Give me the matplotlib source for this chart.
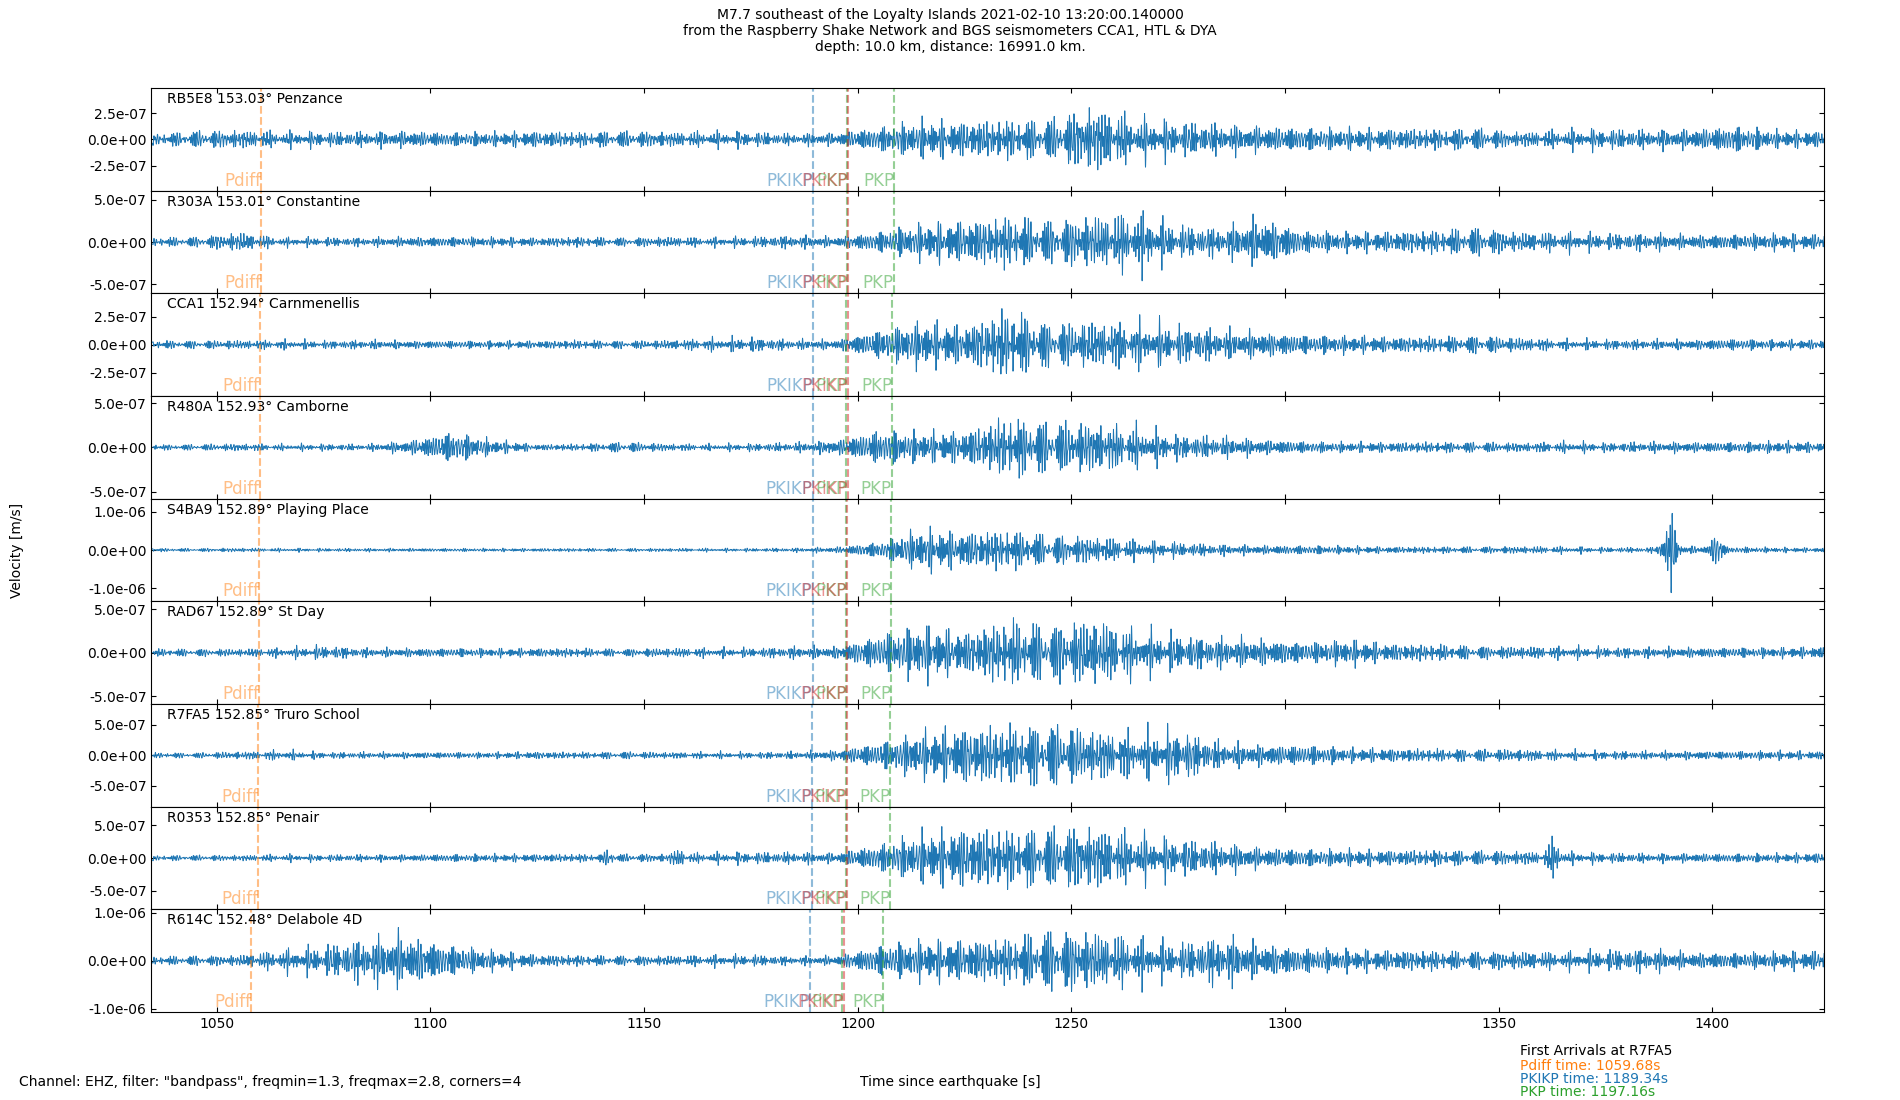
import numpy as np
import matplotlib
matplotlib.use("Agg")
import matplotlib.pyplot as plt

# station info
codes = ["RB5E8", "R303A", "CCA1", "R480A", "S4BA9", "RAD67", "R7FA5", "R0353", "R614C"]
dists = [153.03, 153.01, 152.94, 152.93, 152.89, 152.89, 152.85, 152.85, 152.48]
names = ["Penzance", "Constantine", "Carnmenellis", "Camborne", "Playing Place",
         "St Day", "Truro School", "Penair", "Delabole 4D"]

# arrival times per station [s]
t_pdiff = [1060.45, 1060.35, 1060.05, 1060.0, 1059.85, 1059.85, 1059.68, 1059.68, 1058.1]
t_pkikp = [1189.6, 1189.55, 1189.5, 1189.45, 1189.4, 1189.4, 1189.34, 1189.34, 1188.8]
t_pkp = [1197.5, 1197.45, 1197.35, 1197.3, 1197.25, 1197.25, 1197.16, 1197.16, 1196.4]
t_pkikp2 = [1197.8, 1197.75, 1197.65, 1197.6, 1197.55, 1197.55, 1197.45, 1197.45, 1196.7]
t_pkp2 = [1208.5, 1208.4, 1208.1, 1208.0, 1207.8, 1207.8, 1207.6, 1207.6, 1205.9]

# y limits and ticks per panel [m/s]
ylims = [4.9e-7, 6.1e-7, 4.6e-7, 5.8e-7, 1.35e-6, 5.9e-7, 8.4e-7, 7.8e-7, 1.07e-6]
ytick_step = [2.5e-7, 5e-7, 2.5e-7, 5e-7, 1e-6, 5e-7, 5e-7, 5e-7, 1e-6]

# amplitude envelopes (x1e-7 m/s), knots every 10 s from 1035 s
env_knots = np.arange(1035, 1426, 10)
env_RB5E8 = [0.6, 0.9, 1.0, 0.8, 0.8, 0.8, 0.9, 0.8, 0.8, 0.9, 0.8, 0.9, 0.8, 0.8, 0.8, 0.6, 0.7,
             1.4, 2.1, 2.0, 2.1, 2.2, 3.6, 2.2, 1.9, 1.6, 1.4, 1.3, 1.2, 1.2, 1.1, 1.2, 0.8, 1.0,
             1.1, 1.0, 1.1, 1.5, 1.0, 0.9]
env_R303A = [0.6, 0.7, 1.3, 0.6, 0.6, 0.6, 0.7, 0.7, 0.7, 0.6, 0.7, 0.6, 0.7, 0.6, 0.7, 0.9, 0.7,
             1.5, 2.6, 3.0, 3.6, 3.0, 3.6, 4.0, 2.2, 2.0, 3.2, 1.6, 1.4, 1.5, 1.6, 2.0, 1.3, 1.3,
             1.1, 1.2, 1.0, 1.1, 1.2, 1.1]
env_CCA1 = [0.4, 0.4, 0.45, 0.45, 0.4, 0.45, 0.4, 0.4, 0.4, 0.4, 0.45, 0.4, 0.45, 0.6, 0.7, 0.5,
            0.5, 1.5, 2.4, 2.0, 3.5, 2.2, 2.3, 2.2, 1.9, 1.5, 1.3, 1.0, 0.9, 0.8, 0.8, 0.9, 0.7,
            0.5, 0.5, 0.5, 0.5, 0.6, 0.5, 0.5]
env_R480A = [0.35, 0.4, 0.5, 0.4, 0.45, 0.4, 0.9, 2.1, 1.0, 0.4, 0.45, 0.7, 0.5, 0.4, 0.5, 0.6,
             0.9, 2.4, 2.0, 2.2, 4.0, 3.4, 3.3, 2.6, 1.6, 1.4, 1.0, 0.8, 0.7, 0.7, 0.7, 0.7, 0.6,
             0.7, 0.6, 0.7, 0.7, 0.7, 0.8, 0.7]
env_S4BA9 = [0.5, 0.5, 0.6, 0.5, 0.5, 0.5, 0.5, 0.5, 0.5, 0.5, 0.5, 0.5, 0.5, 0.5, 0.5, 0.6, 0.9,
             2.5, 6.5, 5.5, 6.0, 4.5, 4.0, 2.8, 2.2, 1.6, 1.4, 1.4, 1.2, 1.0, 1.0, 1.0, 1.1, 1.0,
             0.8, 0.8, 1.2, 1.0, 0.8, 0.7]
env_RAD67 = [0.5, 0.5, 0.5, 0.6, 0.9, 0.6, 0.6, 0.6, 0.6, 0.6, 0.6, 0.5, 0.6, 0.6, 0.6, 0.8, 0.8,
             2.5, 3.8, 2.8, 4.4, 3.8, 4.4, 3.0, 2.3, 2.0, 1.8, 1.4, 1.8, 1.2, 1.1, 0.9, 0.8, 0.8,
             0.7, 0.7, 0.7, 0.7, 0.7, 0.8]
env_R7FA5 = [0.5, 0.5, 0.7, 0.9, 0.6, 0.6, 0.6, 0.6, 0.6, 0.7, 0.6, 0.7, 0.6, 0.6, 0.6, 0.7, 1.0,
             2.5, 4.5, 5.5, 5.5, 6.0, 4.8, 4.0, 4.8, 2.4, 2.0, 2.0, 1.4, 1.3, 1.2, 1.2, 1.1, 0.9,
             0.8, 0.8, 0.8, 0.8, 0.9, 0.8]
env_R0353 = [0.45, 0.5, 0.5, 0.6, 0.6, 0.6, 0.6, 0.7, 0.7, 0.7, 0.7, 0.7, 0.7, 0.9, 1.0, 1.0, 0.9,
             2.5, 4.5, 5.5, 5.0, 5.3, 5.5, 4.0, 3.2, 2.6, 1.8, 1.6, 1.5, 1.4, 1.4, 1.3, 1.2, 1.0,
             0.9, 0.8, 0.8, 0.8, 0.8, 0.9]
env_R614C = [1.0, 1.2, 1.3, 2.5, 3.5, 5.5, 6.0, 3.8, 2.5, 1.5, 1.3, 1.2, 1.2, 1.3, 1.4, 1.0, 1.2,
             3.8, 5.0, 5.2, 5.5, 7.5, 7.0, 5.5, 4.0, 6.0, 4.0, 3.2, 2.8, 2.6, 2.4, 2.2, 2.2, 2.0,
             2.5, 2.8, 2.0, 2.0, 2.2, 2.5]
envelopes = [env_RB5E8, env_R303A, env_CCA1, env_R480A, env_S4BA9,
             env_RAD67, env_R7FA5, env_R0353, env_R614C]

# short local bursts: (time s, amplitude x1e-7, half width s)
burst_list = {
    "R303A": [(1056, 1.4, 1.0), (1268, 4.8, 1.0), (1292, 3.4, 1.5)],
    "R480A": [(1193, 1.4, 0.8)],
    "S4BA9": [(1390, 10.5, 1.5), (1401, 6.0, 1.2)],
    "R0353": [(1142, 2.0, 1.2), (1158, 1.6, 2.0), (1363, 3.3, 1.8)],
    "R614C": [(1092, 7.0, 1.5)],
}

fs = 50.0
t = np.arange(1035.0, 1426.5, 1 / fs)
freqs = [1.33, 1.52, 1.71, 1.94, 2.17, 2.38, 2.61, 2.79]

fig, axes = plt.subplots(9, 1, figsize=(19, 11), dpi=100, sharex=True)
fig.subplots_adjust(left=0.0797, right=0.96, top=0.92, bottom=0.08, hspace=0)

for i, ax in enumerate(axes):
    env = np.interp(t, env_knots, envelopes[i])
    for tb, ab, wb in burst_list.get(codes[i], []):
        env = np.maximum(env, ab * np.exp(-0.5 * ((t - tb) / wb) ** 2))
    carrier = sum(np.sin(2 * np.pi * f * t + (i + 1) * (j + 1) * 0.9 + 0.37 * j * j)
                  for j, f in enumerate(freqs))
    carrier = carrier / np.percentile(np.abs(carrier), 99.5)
    ax.plot(t, env * 1e-7 * carrier, color="C0", lw=0.7)

    lines = [(t_pdiff[i], "C1", "Pdiff"), (t_pkikp[i], "C0", "PKIKP"),
             (t_pkp[i], "C2", "PKP"), (t_pkikp2[i], "C3", "PKiKP"),
             (t_pkp2[i], "C2", "PKP")]
    for x, c, lab in lines:
        ax.axvline(x, color=c, ls="--", lw=1.5, alpha=0.5)
        ax.text(x, 0.01, lab, color=c, alpha=0.5, fontsize=12, ha="right", va="bottom",
                transform=ax.get_xaxis_transform())

    ax.text(0.0095, 0.96, f"{codes[i]} {dists[i]:.2f}° {names[i]}", transform=ax.transAxes,
            fontsize=10, va="top", ha="left")
    ax.set_ylim(-ylims[i], ylims[i])
    s = ytick_step[i]
    ax.set_yticks([-s, 0, s])
    ax.set_yticklabels([f"{v:.1e}" for v in [-s, 0.0, s]])
    ax.set_xlim(1034.7, 1426.1)
    ax.tick_params(direction="in", top=True, right=True, labelsize=10)

axes[-1].set_xticks([1050, 1100, 1150, 1200, 1250, 1300, 1350, 1400])

fig.suptitle("M7.7 southeast of the Loyalty Islands 2021-02-10 13:20:00.140000\n"
             "from the Raspberry Shake Network and BGS seismometers CCA1, HTL & DYA\n"
             "depth: 10.0 km, distance: 16991.0 km.", fontsize=10, y=0.993, va="top")
fig.text(0.0088, 0.5, "Velocity [m/s]", rotation=90, va="center", ha="center", fontsize=10)
fig.text(0.0102, 0.0164, 'Channel: EHZ, filter: "bandpass", freqmin=1.3, freqmax=2.8, corners=4',
         fontsize=10, va="center", ha="left")
fig.text(0.5, 0.0164, "Time since earthquake [s]", fontsize=10, va="center", ha="center")

fig.text(0.80, 0.0445, "First Arrivals at R7FA5", fontsize=10, va="center")
fig.text(0.80, 0.031, "Pdiff time: 1059.68s", fontsize=10, va="center", color="C1")
fig.text(0.80, 0.019, "PKIKP time: 1189.34s", fontsize=10, va="center", color="C0")
fig.text(0.80, 0.007, "PKP time: 1197.16s", fontsize=10, va="center", color="C2")

fig.savefig("out.png")
